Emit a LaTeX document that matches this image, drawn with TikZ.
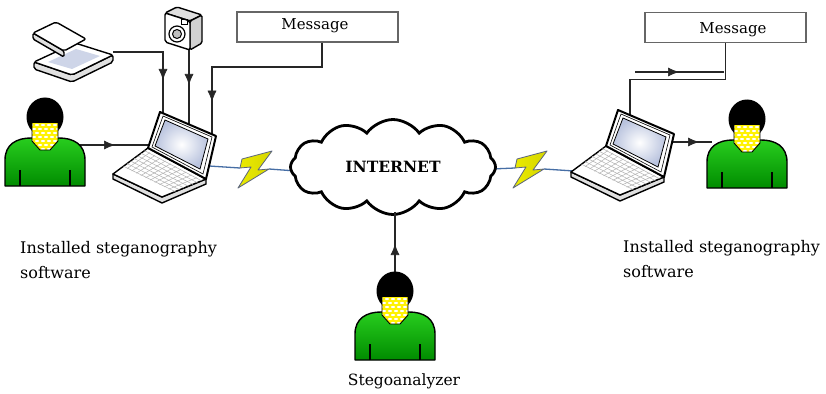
\documentclass[tikz,border=0pt]{standalone}
\usepackage{fontspec}
\setmainfont{DejaVu Serif}
\usetikzlibrary{shapes.symbols,arrows.meta,decorations.markings,calc}

\definecolor{linkblue}{RGB}{70,110,165}
\definecolor{boltyellow}{RGB}{235,235,0}
\definecolor{boltedge}{RGB}{90,100,125}
\definecolor{shirttop}{RGB}{40,205,30}
\definecolor{shirtbot}{RGB}{0,140,0}
\definecolor{screenedge}{RGB}{185,195,222}

\tikzset{
  wire/.style={draw=black!85, line width=1.2pt},
  arrowat/.style={postaction={decorate}, decoration={markings,
      mark=at position #1 with {\arrow[line width=0.6pt]{Latex[length=11pt,width=9pt]}}}},
  msgbox/.style={draw=black!60, line width=1.4pt, fill=white,
      minimum width=161pt, minimum height=30pt, inner sep=0pt},
  msgtext/.style={font=\fontsize{15}{18}\selectfont, inner sep=0pt},
  lbl/.style={font=\fontsize{16}{25}\selectfont, align=left, inner sep=0pt, anchor=north west},
  link/.style={draw=linkblue, line width=1.3pt},
  outline/.style={line width=1.4pt, line join=round},
  % a person seen from the front, origin at the centre of the head
  person/.pic={
    \draw[outline, top color=shirttop, bottom color=shirtbot]
      (-40,68) -- (-40,42) .. controls (-40,26) and (-28,20) .. (-14,20)
      -- (14,20) .. controls (28,20) and (40,26) .. (40,42) -- (40,68) -- cycle;
    \draw[line width=1.2pt] (-25,52) -- (-25,68) (25,52) -- (25,68);
    \fill[black] (0,-1) ellipse[x radius=18.5, y radius=19.5];
    \begin{scope}
      \clip (-13,5) -- (13,5) -- (13,23) -- (5,32) -- (-5,32) -- (-13,23) -- cycle;
      \fill[yellow] (-13,5) rectangle (13,32);
      \foreach \r in {0,...,6}
        \foreach \c in {0,...,5}
          \fill[white] ({-14+\c*6+mod(\r,2)*3},{7+\r*4}) ellipse[x radius=2, y radius=1.1];
    \end{scope}
    \draw[line width=0.9pt] (-13,5) -- (-13,23) -- (-5,32) -- (5,32) -- (13,23) -- (13,5);
  },
  % an open notebook computer, origin at the top left corner of the lid
  laptop/.pic={
    \draw[outline, fill=black!12] (-47,62) -- (2,85) -- (46,67) -- (46,72) -- (2,91) -- (-47,67) -- cycle;
    \draw[outline, fill=white] (-12,36) -- (46,67) -- (2,85) -- (-47,62) -- cycle;
    \foreach \t in {0.1,0.2,...,0.75}
      \draw[black!30, line width=0.5pt] ($(-12,36)+\t*(-35,26)$) -- ($(46,67)+\t*(-44,18)$);
    \foreach \s in {0.08,0.17,...,0.95}
      \draw[black!30, line width=0.5pt] ($(-12,36)+\s*(58,31)+0.08*(-35,26)$) -- ($(-12,36)+\s*(58,31)+0.72*(-35,26)+0.72*\s*(-9,-8)$);
    \draw[line width=2pt, line join=round, fill=white] (0,0) -- (56,24) -- (46,67) -- (-12,36) -- cycle;
    \draw[line width=0.6pt] (3,4) -- (52,25) -- (43,62) -- (-8,35) -- cycle;
    \draw[line width=0.8pt, inner color=white, outer color=screenedge]
      (5,8) -- (48,27) -- (40,57) -- (-5,34) -- cycle;
  },
  % a lightning flash, origin at its centre
  flash/.pic={
    \draw[line width=0.8pt, draw=boltedge, left color=boltyellow, right color=boltyellow!80!olive, line join=round]
      (-14,-9) -- (16,-17) -- (2,2) -- (13,1) -- (-18,20) -- (-5,-1) -- (-16,0) -- cycle;
  }
}

\begin{document}
\begin{tikzpicture}[x=1pt, y=-1pt]
\useasboundingbox[fill=white] (0,0) rectangle (826,393);

% ---------- connection points ----------
\coordinate (scanOut)  at (113,52);
\coordinate (scanIn)   at (163,113);
\coordinate (camOut)   at (189,50);
\coordinate (camIn)    at (189,124);
\coordinate (msgLIn)   at (212,134);
\coordinate (userLOut) at (77,145);
\coordinate (lapLIn)   at (150,145);
\coordinate (lapLNet)  at (209,166);
\coordinate (boltL)    at (256,168);
\coordinate (netWest)  at (296,171);
\coordinate (netEast)  at (492,169);
\coordinate (boltR)    at (531,168);
\coordinate (lapRNet)  at (574,171);
\coordinate (lapRUp)   at (630,115);
\coordinate (lapROut)  at (673,142);
\coordinate (userRIn)  at (712,142);
\coordinate (stegoOut) at (395,272);
\coordinate (netSouth) at (395,212);
\coordinate (echoA)    at (635,72);
\coordinate (echoB)    at (724,72);

% ---------- wireless links ----------
\draw[link] (lapLNet) -- ($(boltL)+(-16,0)$);
\draw[link] ($(boltL)+(13,1)$) -- (netWest);
\draw[link] (netEast) -- ($(boltR)+(-16,0)$);
\draw[link] ($(boltR)+(13,1)$) -- (lapRNet);
\pic at (boltL) {flash};
\pic at (boltR) {flash};

% ---------- internet cloud ----------
\node[cloud, cloud puffs=12, cloud puff arc=110, aspect=2.2, draw, line width=2.8pt, fill=white,
      minimum width=205pt, minimum height=95pt, inner sep=0pt,
      font=\fontsize{15.5}{18}\selectfont\bfseries] (net) at (393,167) {INTERNET};

% ---------- message boxes ----------
\node[msgbox] (msgL) at (317.5,27) {};
\node[msgtext] (msgLtext) at (315,26) {Message};
\node[msgbox] (msgR) at (725.5,27.5) {};
\node[msgtext] (msgRtext) at (733,30) {Message};

% ---------- wired connections ----------
\draw[wire, arrowat=78pt] (scanOut) -- (scanOut -| scanIn) -- (scanIn);
\draw[wire, arrowat=35pt] (camOut) -- (camIn);
\draw[wire, arrowat=169pt] ([xshift=4.5pt]msgL.south) |- ($(msgLIn)+(0,-67)$) -- (msgLIn);
\draw[wire, arrowat=38pt] (userLOut) -- (lapLIn);
\draw[wire] (lapRUp) |- ($(msgR.south)+(0,36)$) -- (msgR.south);
\draw[wire, arrowat=44pt] (echoA) -- (echoB);
\draw[wire, arrowat=26pt] (lapROut) -- (userRIn);
\draw[wire, arrowat=28pt] (stegoOut) -- (netSouth);

% ---------- computers ----------
\pic at (160,112) {laptop};
\pic at (618,110) {laptop};

% ---------- scanner ----------
\draw[outline, fill=black!12, rounded corners=2pt] (34,62) -- (72,75) -- (113,55) -- (113,62) -- (72,82) -- (34,69) -- cycle;
\draw[outline, fill=white, rounded corners=2pt] (34,62) -- (75,43) -- (113,55) -- (72,75) -- cycle;
\fill[screenedge!70] (48,62) -- (76,49) -- (100,56) -- (72,69) -- cycle;
\draw[outline, fill=black!12, rounded corners=1.5pt] (33,33) -- (64,51) -- (64,57) -- (33,39) -- cycle;
\draw[outline, fill=white, rounded corners=2pt] (33,33) -- (56,22) -- (86,39) -- (64,51) -- cycle;

% ---------- camera ----------
\draw[outline, fill=black!12, rounded corners=1.5pt] (165,13) -- (177,7) -- (202,15) -- (190,21) -- cycle;
\draw[outline, fill=black!18, rounded corners=1.5pt] (190,21) -- (202,15) -- (202,43) -- (190,50) -- cycle;
\draw[outline, fill=white, rounded corners=2pt] (165,13) -- (190,21) -- (190,50) -- (165,42) -- cycle;
\draw[line width=1.2pt, fill=white] (177,34) circle[radius=8];
\draw[line width=1pt, fill=black!25] (177,34) circle[radius=4.5];
\draw[line width=0.8pt] (181,19) rectangle (187,24);

% ---------- people ----------
\pic at (45,118) {person};
\pic at (747,120) {person};
\pic at (395,292) {person};

% ---------- captions ----------
\node[lbl] (capL) at (20,241) {Installed steganography\\software};
\node[lbl] (capR) at (623,240) {Installed steganography\\software};
\node[font=\fontsize{15.5}{18}\selectfont, inner sep=0pt] (capS) at (404,381) {Stegoanalyzer};
\end{tikzpicture}
\end{document}
